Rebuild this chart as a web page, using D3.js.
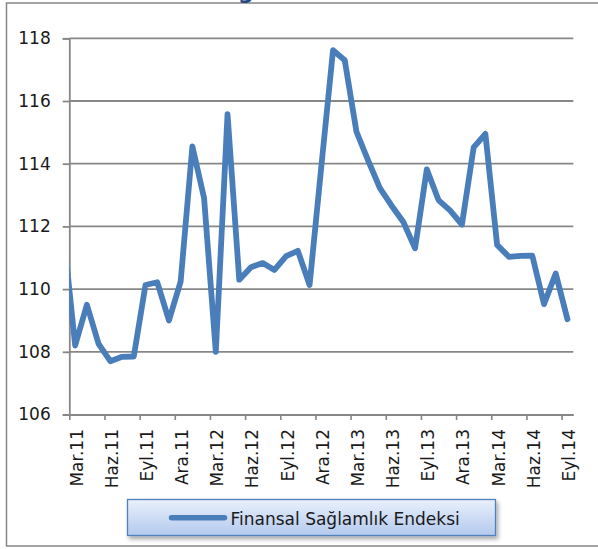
<!DOCTYPE html>
<html>
<head>
<meta charset="utf-8">
<script src="https://cdn.jsdelivr.net/npm/d3@7/dist/d3.min.js"></script>
<style>
  html, body { margin: 0; padding: 0; background: #fff; }
  svg { display: block; }
  text { font-family: "DejaVu Sans", sans-serif; fill: #1a1a1a; }
</style>
</head>
<body>
<svg id="chart" width="598" height="549"></svg>
<script>
// Monthly category labels (Mar.11 … Eyl.14)
const months = [
  "Mar.11","Nis.11","May.11","Haz.11","Tem.11","Ağu.11","Eyl.11","Eki.11","Kas.11","Ara.11",
  "Oca.12","Şub.12","Mar.12","Nis.12","May.12","Haz.12","Tem.12","Ağu.12","Eyl.12","Eki.12","Kas.12","Ara.12",
  "Oca.13","Şub.13","Mar.13","Nis.13","May.13","Haz.13","Tem.13","Ağu.13","Eyl.13","Eki.13","Kas.13","Ara.13",
  "Oca.14","Şub.14","Mar.14","Nis.14","May.14","Haz.14","Tem.14","Ağu.14","Eyl.14"
];

// Finansal Sağlamlık Endeksi, one value per month above
const indexValues = [
  108.20, 109.50, 108.25, 107.70, 107.84, 107.85, 110.13, 110.22, 109.00, 110.24,
  114.55, 112.90, 108.00, 115.58, 110.30, 110.70, 110.83, 110.61, 111.05, 111.22, 110.13, 113.90,
  117.62, 117.30, 115.02, 114.10, 113.22, 112.66, 112.14, 111.30, 113.82, 112.84, 112.50, 112.06,
  114.52, 114.95, 111.41, 111.03, 111.06, 111.07, 109.52, 110.50, 109.04
];

// Value of the month before the first category (Şub.11); its segment is clipped at the plot edge
const priorMonth = { label: "Şub.11", value: 111.8 };

const yTicks = [106, 108, 110, 112, 114, 116, 118];
const seriesName = "Finansal Sağlamlık Endeksi";

const svg = d3.select("#chart");

// Plot area
const plot = { left: 69.3, right: 573.3, top: 38.3, bottom: 414.5 };

const x = d3.scaleLinear()
  .domain([-0.5, months.length - 0.5])
  .range([plot.left, plot.right]);
const y = d3.scaleLinear()
  .domain([106, 118])
  .range([plot.bottom, plot.top]);

const gray = "#878787";
const lineBlue = "#4a7ebb";

// Outer chart frame
svg.append("rect")
  .attr("x", 6.5).attr("y", 3)
  .attr("width", 610).attr("height", 543)
  .attr("fill", "none")
  .attr("stroke", gray)
  .attr("stroke-width", 1.5);

// Chart title, placed above the frame so that only its descender reaches the page
svg.append("text")
  .attr("x", 95.5)
  .attr("y", -0.8)
  .attr("font-weight", "bold")
  .attr("font-size", 22)
  .style("fill", "#1f497d")
  .text(seriesName);

// Horizontal gridlines
svg.append("g")
  .selectAll("line")
  .data(yTicks.filter(d => d !== 106))
  .join("line")
  .attr("x1", plot.left).attr("x2", plot.right)
  .attr("y1", d => y(d)).attr("y2", d => y(d))
  .attr("stroke", gray)
  .attr("stroke-width", 1.8);

// Y axis
const yAxis = svg.append("g")
  .attr("transform", `translate(${plot.left},0)`)
  .call(d3.axisLeft(y).tickValues(yTicks).tickSize(6.6).tickPadding(12).tickFormat(d3.format("d")));
yAxis.select(".domain").attr("stroke", gray).attr("stroke-width", 1.8);
yAxis.selectAll(".tick line").attr("stroke", gray).attr("stroke-width", 1.8);
yAxis.selectAll(".tick text")
  .attr("font-size", 17)
  .attr("font-family", "DejaVu Sans, sans-serif")
  .style("fill", "#1a1a1a");

// X axis: tick marks at every third category boundary
const boundaryTicks = d3.range(0, months.length, 3).map(i => i - 0.5);
const xAxis = svg.append("g")
  .attr("transform", `translate(0,${plot.bottom})`)
  .call(d3.axisBottom(x).tickValues(boundaryTicks).tickSizeInner(5.5).tickSizeOuter(0).tickFormat(""));
xAxis.select(".domain").attr("stroke", gray).attr("stroke-width", 1.8);
xAxis.selectAll(".tick line").attr("stroke", gray).attr("stroke-width", 1.6);

// Rotated month labels at every third category
svg.append("g")
  .selectAll("text")
  .data(months.map((m, i) => ({ m, i })).filter(d => d.i % 3 === 0))
  .join("text")
  .attr("transform", d => `translate(${x(d.i) + 1.5},429) rotate(-90)`)
  .attr("text-anchor", "end")
  .attr("dy", "0.35em")
  .attr("font-size", 17)
  .text(d => d.m);

// Series line, clipped to the plot area
svg.append("defs").append("clipPath").attr("id", "plotClip")
  .append("rect")
  .attr("x", plot.left).attr("y", 0)
  .attr("width", plot.right - plot.left + 10)
  .attr("height", plot.bottom + 10);

const points = [{ i: -1, v: priorMonth.value }]
  .concat(indexValues.map((v, i) => ({ i, v })));

const line = d3.line()
  .x(d => x(d.i))
  .y(d => y(d.v));

svg.append("path")
  .datum(points)
  .attr("clip-path", "url(#plotClip)")
  .attr("d", line)
  .attr("fill", "none")
  .attr("stroke", lineBlue)
  .attr("stroke-width", 5.8)
  .attr("stroke-linejoin", "round")
  .attr("stroke-linecap", "round");

// Legend box
const defs = svg.select("defs");
const grad = defs.append("linearGradient")
  .attr("id", "legendFill")
  .attr("x1", 0).attr("y1", 0).attr("x2", 0).attr("y2", 1);
grad.append("stop").attr("offset", "0%").attr("stop-color", "#e9f0fb");
grad.append("stop").attr("offset", "100%").attr("stop-color", "#b3c9ee");

const shadow = defs.append("filter")
  .attr("id", "legendShadow")
  .attr("x", "-10%").attr("y", "-30%").attr("width", "120%").attr("height", "180%");
shadow.append("feDropShadow")
  .attr("dx", 2).attr("dy", 3)
  .attr("stdDeviation", 2)
  .attr("flood-color", "#000")
  .attr("flood-opacity", 0.35);

const legend = svg.append("g").attr("transform", "translate(127.5,499.5)");
legend.append("rect")
  .attr("width", 368).attr("height", 36)
  .attr("fill", "url(#legendFill)")
  .attr("stroke", "#4f81bd")
  .attr("stroke-width", 1.3)
  .attr("filter", "url(#legendShadow)");
legend.append("line")
  .attr("x1", 44).attr("x2", 97)
  .attr("y1", 18.3).attr("y2", 18.3)
  .attr("stroke", lineBlue)
  .attr("stroke-width", 5.5)
  .attr("stroke-linecap", "round");
legend.append("text")
  .attr("x", 103)
  .attr("y", 25.5)
  .attr("font-size", 17)
  .text(seriesName);
</script>
</body>
</html>
